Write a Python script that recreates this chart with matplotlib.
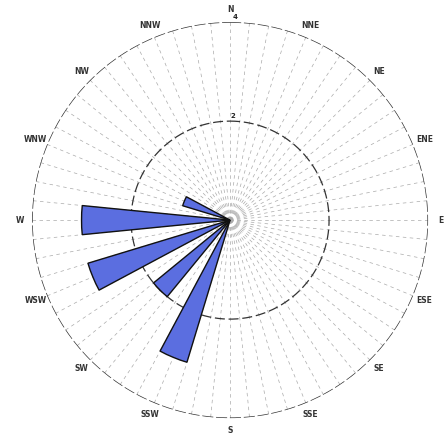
import matplotlib
matplotlib.use("Agg")
import matplotlib.pyplot as plt
import numpy as np

# compass labels and bar data (direction in degrees, count)
labels = ["N", "NNE", "NE", "ENE", "E", "ESE", "SE", "SSE",
          "S", "SSW", "SW", "WSW", "W", "WNW", "NW", "NNW"]
bar_dirs = [292.5, 270.0, 247.5, 225.0, 202.5]
bar_vals = [1.0, 3.0, 3.0, 2.0, 3.0]
rings = [2, 4]

fig = plt.figure(figsize=(4.45, 4.42), dpi=100)
ax = fig.add_axes([0.072, 0.054, 0.89, 0.896], projection="polar")
ax.set_theta_zero_location("N")
ax.set_theta_direction(-1)
ax.set_ylim(0, 4)
ax.grid(False)
ax.set_xticks([])
ax.set_yticks([])
ax.spines["polar"].set_visible(False)

# radial spokes, 64 of them
for a in np.arange(64) * 360 / 64:
    ax.plot([np.deg2rad(a)] * 2, [0, 4], color="#aaaaaa", lw=0.5,
            ls=(0, (5, 5)), zorder=1)

# rings
t = np.linspace(0, 2 * np.pi, 400)
ax.plot(t, np.full_like(t, 4), color="#333333", lw=1.0, ls=(0, (8, 2)), zorder=2)
ax.plot(t, np.full_like(t, 2), color="#333333", lw=0.9, ls=(0, (8, 3)), zorder=2)

# bars
ax.bar(np.deg2rad(bar_dirs), bar_vals, width=np.deg2rad(11.25), bottom=0,
       color="#5b6ee0", edgecolor="#111111", linewidth=1.0, zorder=3)

# compass labels
for i, lab in enumerate(labels):
    ax.text(np.deg2rad(i * 22.5), 4.25, lab, ha="center", va="center",
            fontsize=5.5, fontweight="bold", color="#333333")

# ring labels
for r in rings:
    ax.text(np.deg2rad(1.5), r + 0.05, str(r), ha="center", va="bottom",
            fontsize=5, fontweight="bold", color="#222222")

fig.savefig("out.png", dpi=100)
